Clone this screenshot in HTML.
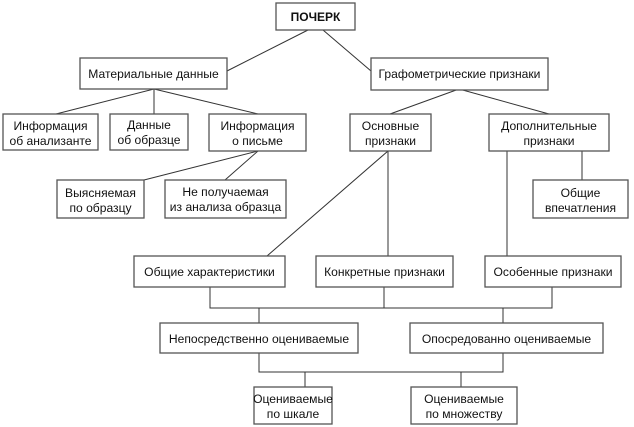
<!DOCTYPE html>
<html><head><meta charset="utf-8"><style>
html,body{margin:0;padding:0;background:#fff;}
svg{display:block;}
text{font-family:"Liberation Sans",sans-serif;font-size:12.1px;fill:#111;text-anchor:middle;}
rect{fill:#fff;stroke:#555;stroke-width:1.3;}
line,polyline{stroke:#333;stroke-width:1;fill:none;}
</style></head><body>
<svg width="634" height="427" viewBox="0 0 634 427">
<line x1="308" y1="30" x2="227" y2="71"/>
<line x1="323" y1="30" x2="371" y2="71"/>
<line x1="154" y1="89" x2="56" y2="114"/>
<line x1="154" y1="89" x2="154" y2="114"/>
<line x1="154" y1="89" x2="258" y2="114"/>
<line x1="258" y1="151" x2="144" y2="180"/>
<line x1="258" y1="151" x2="225" y2="180"/>
<line x1="459" y1="89" x2="390" y2="114"/>
<line x1="459" y1="89" x2="549" y2="114"/>
<line x1="388" y1="151" x2="267" y2="256"/>
<line x1="388" y1="151" x2="388" y2="256"/>
<line x1="507" y1="151" x2="507" y2="256"/>
<line x1="582" y1="151" x2="582" y2="180"/>
<polyline points="210,287 210,308 552,308 552,287"/>
<line x1="384" y1="287" x2="384" y2="308"/>
<line x1="259" y1="308" x2="259" y2="323"/>
<line x1="503" y1="308" x2="503" y2="323"/>
<polyline points="259,353 259,372 503,372 503,353"/>
<line x1="305" y1="372" x2="305" y2="387"/>
<line x1="461" y1="372" x2="461" y2="387"/>
<rect x="276" y="3" width="79" height="27"/>
<text x="315.5" y="21" style="font-weight:bold;font-size:12px">ПОЧЕРК</text>
<rect x="80" y="58" width="147" height="31"/>
<text x="153.5" y="78">Материальные данные</text>
<rect x="371" y="58" width="177" height="32"/>
<text x="459.5" y="78">Графометрические признаки</text>
<rect x="3" y="114" width="95" height="36"/>
<text x="50.5" y="130">Информация</text><text x="50.5" y="145">об анализанте</text>
<rect x="110" y="114" width="78" height="36"/>
<text x="149" y="129">Данные</text><text x="149" y="144">об образце</text>
<rect x="209" y="114" width="97" height="37"/>
<text x="257.5" y="130">Информация</text><text x="257.5" y="145">о письме</text>
<rect x="57" y="180" width="87" height="38"/>
<text x="100.5" y="197">Выясняемая</text><text x="100.5" y="212">по образцу</text>
<rect x="165" y="180" width="121" height="38"/>
<text x="225.5" y="196">Не получаемая</text><text x="225.5" y="211">из анализа образца</text>
<rect x="350" y="114" width="81" height="37"/>
<text x="390.5" y="130">Основные</text><text x="390.5" y="145">признаки</text>
<rect x="489" y="114" width="120" height="37"/>
<text x="549" y="130">Дополнительные</text><text x="549" y="145">признаки</text>
<rect x="533" y="180" width="95" height="38"/>
<text x="580.5" y="197">Общие</text><text x="580.5" y="212">впечатления</text>
<rect x="134" y="256" width="151" height="31"/>
<text x="209.5" y="276">Общие характеристики</text>
<rect x="316" y="256" width="137" height="31"/>
<text x="384.5" y="276">Конкретные признаки</text>
<rect x="485" y="256" width="136" height="31"/>
<text x="553" y="276">Особенные признаки</text>
<rect x="160" y="323" width="198" height="30"/>
<text x="259" y="343">Непосредственно оцениваемые</text>
<rect x="410" y="323" width="193" height="30"/>
<text x="506.5" y="343">Опосредованно оцениваемые</text>
<rect x="254" y="387" width="78" height="37"/>
<text x="293" y="403">Оцениваемые</text><text x="293" y="418">по шкале</text>
<rect x="411" y="387" width="106" height="37"/>
<text x="464" y="403">Оцениваемые</text><text x="464" y="418">по множеству</text>
</svg>
</body></html>
